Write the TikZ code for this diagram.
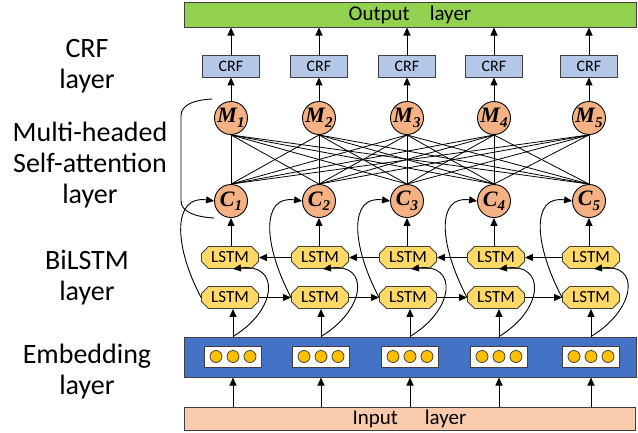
\documentclass[tikz,border=0pt]{standalone}
\usepackage{fontspec}
\setmainfont{Carlito}
\newfontfamily\tnr{Liberation Serif}
\usetikzlibrary{shapes.misc,arrows.meta}
\definecolor{outgreen}{HTML}{92D050}
\definecolor{crfblue}{HTML}{B4C7E7}
\definecolor{circorange}{HTML}{F4B183}
\definecolor{lstmyellow}{HTML}{FFD966}
\definecolor{embblue}{HTML}{4472C4}
\definecolor{dotgold}{HTML}{FFC000}
\definecolor{inpeach}{HTML}{F8CBAD}
\definecolor{edgegray}{HTML}{404040}
\newcommand{\mlab}[2]{{\tnr\fontsize{22}{22}\selectfont\bfseries\itshape #1\raisebox{-4.5pt}{\fontsize{15}{15}\selectfont #2}}}
\begin{document}
\begin{tikzpicture}[x=1pt,y=-1pt,
  layerbox/.style={draw=edgegray,line width=1pt,inner sep=0pt,font=\fontsize{21}{21}\selectfont},
  crfbox/.style={draw=edgegray,line width=0.9pt,fill=crfblue,minimum width=57pt,minimum height=22pt,inner sep=0pt,font=\fontsize{16}{16}\selectfont},
  circ/.style={circle,draw=black,line width=0.9pt,fill=circorange,minimum size=33pt,inner sep=0pt},
  lstm/.style={chamfered rectangle,chamfered rectangle xsep=3.5pt,chamfered rectangle ysep=3.5pt,draw=edgegray,line width=0.9pt,fill=lstmyellow,minimum width=57pt,minimum height=22pt,inner sep=0pt,font=\fontsize{17}{17}\selectfont},
  wbox/.style={draw=edgegray,line width=0.9pt,fill=white,minimum width=57pt,minimum height=21pt,inner sep=0pt},
  dot/.style={circle,draw=edgegray,line width=0.8pt,fill=dotgold,minimum size=12pt,inner sep=0pt},
  lab/.style={align=center,font=\fontsize{28}{31}\selectfont},
  arr/.style={line width=1pt,-{Triangle[length=8pt,width=7pt]}},
  link/.style={line width=0.8pt},
  curv/.style={line width=0.9pt}
]
\useasboundingbox (0,0) rectangle (638,432);
% layers
\node[layerbox,fill=outgreen,minimum width=452pt,minimum height=25pt] (out) at (410,14.5) {Output\hspace{20pt}layer};
\node[layerbox,fill=embblue,minimum width=452pt,minimum height=40pt] (emb) at (410,357) {};
\node[layerbox,fill=inpeach,minimum width=451pt,minimum height=23pt] (inp) at (409.5,418.5) {Input\hspace{27pt}layer};
% left labels
\node[lab] (lcrf) at (87,66) {CRF\\layer};
\node[lab] (lmsa) at (90,165) {Multi-headed\\Self-attention\\layer};
\node[lab] (lbil) at (87,278) {BiLSTM\\layer};
\node[lab] (lemb) at (87,372) {Embedding\\layer};
% columns
\foreach \x [count=\i] in {231,319,407,494,589} {
  \node[crfbox] (R\i) at (\x,66) {CRF};
  \node[circ] (M\i) at (\x,118) {\mlab{M}{\i}};
  \node[circ] (C\i) at (\x,201) {\mlab{C}{\i}};
}
\foreach \x [count=\i] in {230,320,408,496,591} {
  \node[lstm] (T\i) at (\x,257.5) {LSTM};
  \node[lstm] (B\i) at (\x,297.5) {LSTM};
}
\foreach \x [count=\i] in {233,321,410,499,591} {
  \node[wbox] (W\i) at (\x,356.5) {};
  \node[dot] (Da\i) at (\x-17,356.5) {};
  \node[dot] (Db\i) at (\x,356.5) {};
  \node[dot] (Dc\i) at (\x+17,356.5) {};
}
% attention links
\foreach \i in {1,...,5} {
  \foreach \j in {1,...,5} {
    \draw[link] (M\j.south) -- (C\i.north);
  }
}
% vertical arrows
\foreach \i in {1,...,5} {
  \draw[arr] (inp.north -| W\i) -- (emb.south -| W\i);
  \draw[arr] (emb.north -| W\i) -- (B\i.south -| W\i);
  \draw[arr] (T\i.north -| C\i) -- (C\i.south);
  \draw[arr] (M\i.north) -- (R\i.south);
  \draw[arr] (R\i.north) -- (out.south -| R\i);
  \draw[curv,-{Triangle[length=8pt,width=7pt]}] (emb.north -| W\i) .. controls +(45,-27) and +(47,-6) .. ([xshift=3pt]T\i.south);
  \draw[curv,-{Triangle[length=8pt,width=7pt]}] (B\i.west) .. controls +(-28,-53) and +(-41,-6) .. (C\i.west);
}
% horizontal arrows
\foreach \i/\j in {1/2,2/3,3/4,4/5} {
  \draw[arr] (B\i.east) -- (B\j.west);
  \draw[arr] (T\j.west) -- (T\i.east);
}
% bracket
\coordinate (brtop) at ([shift={(-7,-7)}]M1.north west);
\coordinate (brl1) at (181,116);
\coordinate (brl2) at (181,201);
\coordinate (brbot) at ([shift={(-5,5)}]C1.south west);
\draw[curv] (brtop) .. controls +(-17,1) and +(0,-12) .. (brl1) -- (brl2) .. controls +(0,11) and +(-18,-1) .. (brbot);
\end{tikzpicture}
\end{document}
